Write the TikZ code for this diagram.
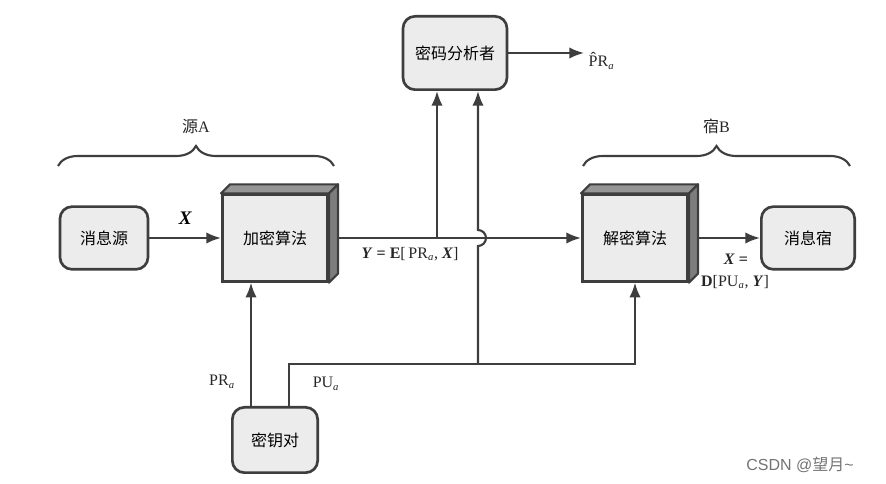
\documentclass[tikz,border=0pt]{standalone}
\usepackage{fontspec}
\setmainfont{Liberation Serif}
\newfontfamily\cjk{Noto Sans CJK SC}
\newfontfamily\wmfont{Liberation Sans}
\usetikzlibrary{calc,decorations.pathreplacing,arrows.meta}

\definecolor{edgegray}{RGB}{62,62,62}
\definecolor{boxfill}{RGB}{236,236,236}
\definecolor{topgray}{RGB}{150,150,150}
\definecolor{sidegray}{RGB}{125,125,125}

\tikzset{
  roundbox/.style={draw=edgegray, fill=boxfill, line width=2pt, rounded corners=9pt,
                   minimum width=66pt, minimum height=47pt, font=\cjk\large},
  algbox/.style={draw=edgegray, fill=boxfill, line width=2pt,
                 minimum width=79pt, minimum height=65pt, font=\cjk\large},
  conn/.style={draw=edgegray, line width=1.6pt},
  arr/.style={conn, -{Latex[length=11pt,width=8.5pt]}},
  lbl/.style={font=\large, text=black!85},
  cbrace/.style={draw=edgegray, line width=1.6pt, decorate,
                 decoration={brace, amplitude=15pt}}
}

\begin{document}
\begin{tikzpicture}[x=0.75pt, y=-0.75pt]
\useasboundingbox (0,0) rectangle (886,484);
% boxes
\node[roundbox] (src) at (104,238) {消息源};
\node[algbox] (enc) at (275,238) {加密算法};
\node[algbox] (dec) at (635,238) {解密算法};
\node[roundbox, minimum width=70pt] (snk) at (808,238) {消息宿};
\node[roundbox, minimum width=78pt, minimum height=55pt] (ana) at (455,53) {密码分析者};
\node[roundbox, minimum width=64pt, minimum height=49pt] (key) at (275,440) {密钥对};
%%------------
\coordinate (j1) at (437,238);
\coordinate (j2) at (478,364);
\coordinate (pu) at (289,364);
\node[lbl, anchor=west] (prhat) at (584,61) {\^{P}R\textsubscript{\textit{a}}};
%%------------
\draw[arr] (src) -- (enc) node[midway, above=6pt, font=\Large\bfseries\itshape] {X};
\draw[arr] (enc.east) -- (dec.west);
\draw[arr] (dec) -- (snk);
\draw[arr] (ana.east) -- (ana.east -| prhat.west);
\draw[arr] (j1) -- (j1 |- ana.south);
\draw[arr] (j2) -- (478,246) arc (90:-90:8) -- (j2 |- ana.south);
\draw[arr] ($(key.north)+(-24,0)$) -- ($(enc.south)+(-24,0)$);
\draw[arr] ($(key.north)+(14,0)$) -- (pu) -| (dec.south);
%%------------ 3d faces
\foreach \b in {enc,dec} {
  \filldraw[fill=topgray, draw=edgegray, line width=1.6pt, line join=round]
    (\b.north west) -- ++(9,-9) -- ($(\b.north east)+(9,-9)$) -- (\b.north east) -- cycle;
  \filldraw[fill=sidegray, draw=edgegray, line width=1.6pt, line join=round]
    (\b.north east) -- ++(9,-9) -- ($(\b.south east)+(9,-9)$) -- (\b.south east) -- cycle;
}
%%------------ labels
\node[lbl] (ylbl) at (410,254) {\textbf{\textit{Y} = E}[\,PR\textsubscript{\textit{a}}, \textbf{\textit{X}}]};
\node[lbl] (xlbl) at (736,259) {\textbf{\textit{X} =}};
\node[lbl] (dlbl) at (735,282) {\textbf{D}[PU\textsubscript{\textit{a}}, \textbf{\textit{Y}}]};
\node[lbl] (prlbl) at (222,382) {PR\textsubscript{\textit{a}}};
\node[lbl] (pulbl) at (326,384) {PU\textsubscript{\textit{a}}};
%%------------ braces
\draw[cbrace] (58,166) -- (334,166) node[midway, above=20pt, lbl] (grpA) {{\cjk 源}A};
\draw[cbrace] (583,166) -- (850,166) node[midway, above=20pt, lbl] (grpB) {{\cjk 宿}B};
\node[font=\wmfont\large, text=black!55] (wm) at (800,465) {CSDN @{\cjk 望月}\textasciitilde};
\end{tikzpicture}
\end{document}
